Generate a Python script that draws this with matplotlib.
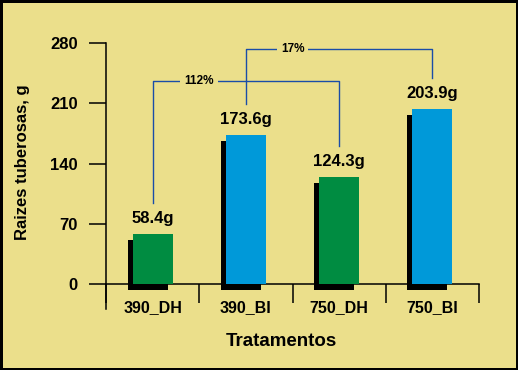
import matplotlib
matplotlib.use('Agg')
import matplotlib.pyplot as plt
from matplotlib import transforms
from matplotlib.patches import Rectangle

# ---- data ----
categories = ['390_DH', '390_BI', '750_DH', '750_BI']
values = [58.4, 173.6, 124.3, 203.9]
value_labels = ['58.4g', '173.6g', '124.3g', '203.9g']
bar_colors = ['#008C41', '#0099D9', '#008C41', '#0099D9']
y_ticks = [0, 70, 140, 210, 280]
comparisons = [(0, 2, '112%'), (1, 3, '17%')]
ylabel = 'Raizes tuberosas, g'
xlabel = 'Tratamentos'

# ---- style / layout ----
plt.rcParams['font.family'] = ['Liberation Sans', 'DejaVu Sans']
plt.rcParams['font.weight'] = 'bold'
W, H, DPI = 518, 370, 100
bg = '#EBDF8B'
line_blue = '#1A4DA8'

fig = plt.figure(figsize=(W / DPI, H / DPI), dpi=DPI)
fig.patch.set_facecolor(bg)

px_per_unit = 0.86
base_px = 284
ax_left_px, ax_right_px = 106, 479
ax_top_px, ax_bot_px = 20, 320
ax = fig.add_axes([ax_left_px / W, 1 - ax_bot_px / H,
                   (ax_right_px - ax_left_px) / W, (ax_bot_px - ax_top_px) / H])
ax.set_facecolor('none')
ymin = -(ax_bot_px - base_px) / px_per_unit
ymax = (base_px - ax_top_px) / px_per_unit
ax.set_ylim(ymin, ymax)
ax.set_xlim(-0.5, len(categories) - 0.5)

x = list(range(len(categories)))
bw = 0.43
shadow = transforms.ScaledTranslation(-5 / DPI, -6 / DPI, fig.dpi_scale_trans)
sh = ax.bar(x, values, width=bw, color='black', zorder=2.6)
for p in sh:
    p.set_transform(ax.transData + shadow)
ax.bar(x, values, width=bw, color=bar_colors, zorder=3)

# spines
for s in ['top', 'right']:
    ax.spines[s].set_visible(False)
ax.spines['left'].set_bounds(-(309 - base_px) / px_per_unit, y_ticks[-1])
ax.spines['bottom'].set_position(('data', 0))
for s in ['left', 'bottom']:
    ax.spines[s].set_linewidth(1.1)
    ax.spines[s].set_color('black')

ax.set_yticks(y_ticks)
ax.tick_params(axis='y', direction='out', length=12.2, width=1.1, pad=8, labelsize=12)

bounds = [i - 0.5 for i in range(len(categories) + 1)]
ax.set_xticks(bounds)
ax.tick_params(axis='x', which='major', direction='out', length=13.5, width=1.1,
               labelbottom=False)
ax.set_xticks(x, minor=True)
ax.set_xticklabels(categories, minor=True)
ax.tick_params(axis='x', which='minor', length=0, pad=11.5, labelsize=11.5)

# value labels
for xi, v, lab in zip(x, values, value_labels):
    ax.annotate(lab, (xi, v), xytext=(0, 8), textcoords='offset points',
                ha='center', va='baseline', fontsize=12, fontweight='bold', zorder=5)

# comparison brackets
levels = [236, 273]
leg_gap = 36
for (i, j, txt), lvl in zip(comparisons, levels):
    ax.plot([i, i, j, j], [values[i] + leg_gap, lvl, lvl, values[j] + leg_gap],
            color=line_blue, lw=1.0, zorder=4)
    ax.text(i + 0.5, lvl, txt, ha='center', va='center', fontsize=8.5,
            bbox=dict(boxstyle='square,pad=0.35', fc=bg, ec='none'), zorder=5)

fig.text(23 / W, 1 - 162 / H, ylabel, rotation=90, ha='center', va='center', fontsize=12)
fig.text(281 / W, 1 - 341 / H, xlabel, ha='center', va='center', fontsize=13.5)

fig.add_artist(Rectangle((0, 0), 1, 1, transform=fig.transFigure, fill=False,
                         ec='black', lw=3.6))

fig.savefig('out.png', dpi=DPI, facecolor=bg)
